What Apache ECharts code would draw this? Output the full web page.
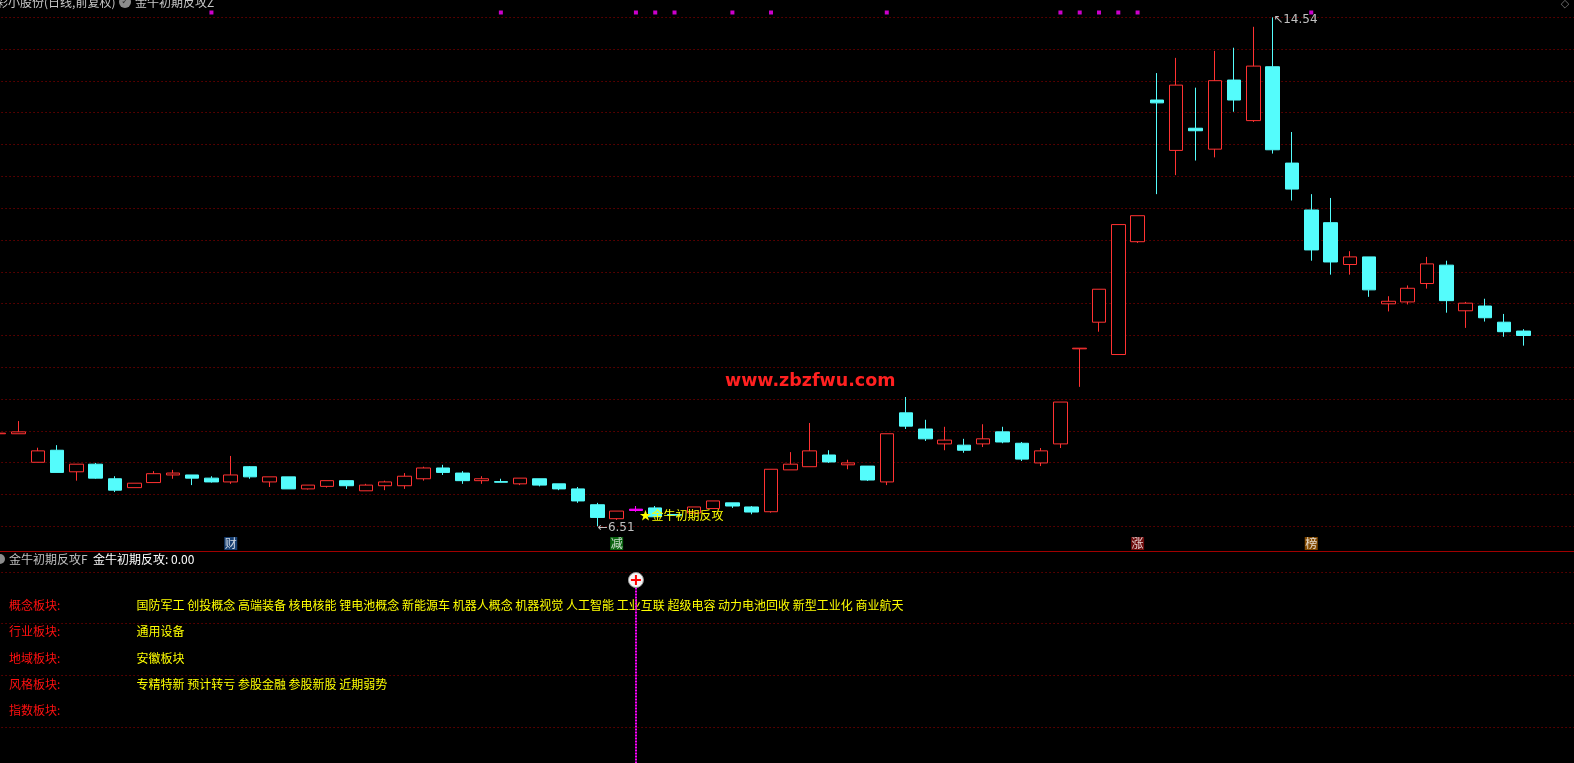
<!DOCTYPE html>
<html><head><meta charset="utf-8">
<script src="https://cdn.jsdelivr.net/npm/echarts@6/dist/echarts.min.js"></script>
<style>html,body{margin:0;padding:0;background:#000;overflow:hidden}#c{width:1574px;height:763px}</style>
</head><body><div id="c"></div>
<script>
// ---------- data ----------
const categories = Array.from({length: 83}, (_, i) => 'D' + (i + 1));
const opens  = [7.97,7.97,7.52,7.71,7.37,7.49,7.26,7.12,7.20,7.32,7.32,7.27,7.21,7.45,7.21,7.29,7.10,7.14,7.23,7.07,
                7.15,7.15,7.26,7.43,7.35,7.23,7.215,7.18,7.26,7.18,7.10,6.85,6.63,6.76,6.80,6.695,6.72,6.79,6.88,6.815,
                6.74,7.40,7.45,7.635,7.48,7.46,7.21,8.30,8.045,7.81,7.79,7.81,8.00,7.82,7.51,7.81,9.31,9.73,9.22,11.00,
                13.235,12.44,12.79,12.46,13.55,12.91,13.76,12.24,11.50,11.30,10.64,10.76,10.02,10.05,10.34,10.63,9.91,9.985,9.73,9.59];
const closes = [7.98,8.00,7.70,7.36,7.49,7.27,7.08,7.19,7.34,7.35,7.27,7.21,7.32,7.29,7.29,7.10,7.16,7.23,7.15,7.16,
                7.21,7.30,7.43,7.36,7.23,7.26,7.205,7.27,7.16,7.10,6.91,6.65,6.75,6.78,6.66,6.685,6.815,6.91,6.83,6.735,
                7.41,7.49,7.70,7.525,7.51,7.24,7.97,8.09,7.89,7.87,7.71,7.89,7.84,7.57,7.70,8.47,9.32,10.25,11.27,11.41,
                13.19,13.47,12.75,13.54,13.235,13.77,12.45,11.83,10.87,10.68,10.76,10.24,10.06,10.265,10.65,10.07,10.03,9.80,9.58,9.52];
const lows   = [7.97,7.97,7.52,7.36,7.23,7.26,7.05,7.12,7.20,7.26,7.16,7.20,7.18,7.26,7.13,7.10,7.09,7.12,7.10,7.07,
                7.08,7.10,7.23,7.32,7.18,7.18,7.205,7.16,7.14,7.08,6.88,6.51,6.61,6.74,6.66,6.685,6.72,6.79,6.80,6.70,
                6.725,7.40,7.45,7.51,7.41,7.225,7.16,8.045,7.856,7.71,7.67,7.76,7.82,7.54,7.46,7.745,8.71,9.58,9.22,10.98,
                11.75,12.05,12.28,12.33,13.05,12.89,12.39,11.65,10.70,10.48,10.48,10.13,9.90,10.01,10.26,9.88,9.64,9.74,9.50,9.36];
const highs  = [7.98,8.17,7.75,7.79,7.49,7.51,7.30,7.19,7.38,7.40,7.32,7.30,7.62,7.46,7.29,7.29,7.16,7.23,7.23,7.18,
                7.23,7.35,7.45,7.48,7.38,7.30,7.26,7.27,7.26,7.18,7.13,6.88,6.75,6.83,6.83,6.695,6.815,6.91,6.88,6.83,
                7.41,7.68,8.14,7.71,7.56,7.46,7.97,8.55,8.19,8.08,7.89,8.12,8.08,7.84,7.745,8.47,9.32,10.25,11.27,11.41,
                13.66,13.90,13.43,14.01,14.06,14.39,14.54,12.73,11.75,11.69,10.85,10.76,10.14,10.31,10.76,10.70,10.05,10.10,9.86,9.62];
const magentaIdx = 33;                 // candle overpainted in magenta
const signalIdx  = [11,26,33,34,35,38,40,46,55,56,57,58,59,68];   // magenta dots on top row
const eventIdx   = [12,32,59,68];
const eventText  = ['财','减','涨','榜'];
const eventColor = ['#1d4f8f','#0b7d14','#8a1010','#a05a00'];
const signalTextIdx = 33;
const signalText = '★金牛初期反攻';
const stickIdx = 33;                   // sub-panel stick
const priceMin = 6.51, priceMax = 14.54;
const lowIdx = 31, highIdx = 66;
const titleMain = '彩小股份(日线,前复权)';
const titleInd = '金牛初期反攻Z';
const subTitle = '金牛初期反攻F';
const subValue = '金牛初期反攻: 0.00';
const rowLabels = ['概念板块:','行业板块:','地域板块:','风格板块:','指数板块:'];
const rowValues = ['国防军工 创投概念 高端装备 核电核能 锂电池概念 新能源车 机器人概念 机器视觉 人工智能 工业互联 超级电容 动力电池回收 新型工业化 商业航天',
                   '通用设备','安徽板块','专精特新 预计转亏 参股金融 参股新股 近期弱势',''];
const watermark = 'www.zbzfwu.com';

// ---------- layout ----------
const BAND = 19.295, N = categories.length;
const LEFT = -10.45, WIDTH = N * BAND;
const CJK = "'Noto Sans CJK SC','DejaVu Sans',sans-serif";
const GRID_RED = '#a00000';

const candleData = opens.map((o, i) => {
  const v = [o, closes[i], lows[i], highs[i]];
  if (i === magentaIdx) return {value: v, itemStyle: {color:'#ff00ff', color0:'#ff00ff', borderColor:'#ff00ff', borderColor0:'#ff00ff'}};
  return v;
});

const hiddenCat = (gi, extra) => Object.assign({
  type:'category', data: categories, gridIndex: gi, boundaryGap: true,
  axisLabel:{show:false}, axisTick:{show:false}, axisLine:{show:false}, splitLine:{show:false}
}, extra || {});

const mkGrid = (top, height) => ({left: LEFT, width: WIDTH, top: top, height: height, outerBoundsMode: 'none', containLabel: false});

const option = {
  backgroundColor: '#000',
  animation: false,
  grid: [mkGrid(17.3, 509), mkGrid(551, 227.45), mkGrid(10.5, 4), mkGrid(537, 13)],
  xAxis: [
    hiddenCat(0),
    hiddenCat(1, {position:'top', axisLine:{show:true, onZero:false, lineStyle:{color:'#a00000', width:1}}}),
    hiddenCat(2),
    hiddenCat(3)
  ],
  yAxis: [
    {type:'value', gridIndex:0, min: priceMin, max: priceMax, interval: (priceMax - priceMin) / 16,
     axisLabel:{show:false}, axisTick:{show:false}, axisLine:{show:false},
     splitLine:{show:true, lineStyle:{color: GRID_RED, type:[1,3], width:1}}},
    {type:'value', gridIndex:1, min: 0, max: 4.404, interval: 1,
     axisLabel:{show:false}, axisTick:{show:false}, axisLine:{show:false},
     splitLine:{show:true, showMinLine:false, showMaxLine:false, lineStyle:{color: GRID_RED, type:[1,3], width:1}}},
    {type:'value', gridIndex:2, min:-1, max:1, show:false},
    {type:'value', gridIndex:3, min:-1, max:1, show:false}
  ],
  series: [
    {
      type:'candlestick', xAxisIndex:0, yAxisIndex:0, data: candleData, barWidth: 14,
      itemStyle:{color:'#000', color0:'#54fcfc', borderColor:'#ff3232', borderColor0:'#54fcfc', borderWidth:1},
      markPoint:{
        symbol:'circle', symbolSize:1, itemStyle:{color:'rgba(0,0,0,0)'},
        label:{show:true, fontFamily:"'DejaVu Sans',sans-serif", fontSize:12, color:'#c0c0c0'},
        data:[
          {coord:[lowIdx, lows[lowIdx]], label:{formatter:'←' + lows[lowIdx].toFixed(2), position:'right', distance:0, offset:[0,1.4]}},
          {coord:[highIdx, highs[highIdx]], label:{formatter:'↖' + highs[highIdx].toFixed(2), position:'right', distance:0, offset:[0,3]}},
          {coord:[signalTextIdx, lows[signalTextIdx]], label:{formatter: signalText, position:'right', distance:3, offset:[0,3.6], color:'#ffff00', fontFamily: CJK}}
        ]
      }
    },
    {
      type:'line', xAxisIndex:1, yAxisIndex:1, data:[], silent:true,
      markLine:{
        silent:true, symbol:['none','none'], label:{show:false},
        lineStyle:{color:'#ff00ff', type:[2,1], width:2},
        data:[[{coord:[stickIdx, 0]}, {coord:[stickIdx, 3.687]}]]
      },
      markPoint:{
        data:[
          {coord:[stickIdx, 3.842], symbol:'circle', symbolSize:15, itemStyle:{color:'#f4f4f4', borderColor:'#9a9a9a', borderWidth:1}, label:{show:false}},
          {coord:[stickIdx, 3.842], symbol:'path://M4,0H6V4H10V6H6V10H4V6H0V4H4Z', symbolSize:10, itemStyle:{color:'#ff0000'}, label:{show:false}}
        ]
      }
    },
    {
      type:'scatter', xAxisIndex:2, yAxisIndex:2, symbol:'rect', symbolSize:4,
      itemStyle:{color:'#ff00ff'}, data: signalIdx.map(i => [i, 0])
    },
    {
      type:'scatter', xAxisIndex:3, yAxisIndex:3, symbol:'rect', symbolSize:[13,13],
      data: eventIdx.map((i, k) => ({value:[i, 0], name: eventText[k], itemStyle:{color: eventColor[k]}})),
      label:{show:true, position:'inside', formatter: p => p.name, color:'#ffffff', fontSize:12, fontFamily: CJK}
    }
  ],
  graphic: [
    {type:'text', x:-4, y:2, style:{text: titleMain, fill:'#c8c8c8', font:'12px ' + CJK, verticalAlign:'middle'}},
    {type:'circle', shape:{cx:125, cy:2, r:6}, style:{fill:'#8c8c8c'}},
    {type:'text', x:125, y:2, style:{text:'✓', fill:'#333', font:'9px DejaVu Sans', align:'center', verticalAlign:'middle'}},
    {type:'text', x:135, y:2, style:{text: titleInd, fill:'#c8c8c8', font:'12px ' + CJK, verticalAlign:'middle'}},
    {type:'text', x:1565, y:4, style:{text:'◇', fill:'#7a7a7a', font:'11px DejaVu Sans', align:'center', verticalAlign:'middle'}},
    {type:'text', x:725, y:381, style:{text: watermark, fill:'#ff2020', font:'bold 17.5px DejaVu Sans', verticalAlign:'middle'}},
    {type:'circle', shape:{cx:0, cy:559, r:5}, style:{fill:'#8c8c8c'}},
    {type:'text', x:9, y:559, style:{text: subTitle, fill:'#c0c0c0', font:'12px ' + CJK, verticalAlign:'middle'}},
    {type:'text', x:93, y:559, style:{text: subValue, fill:'#ffffff', font:'12px ' + CJK, verticalAlign:'middle'}}
  ].concat(rowLabels.map((t, k) => ({type:'text', x:9, y:[605.5,631.5,658,684,710][k],
      style:{text:t, fill:'#ff1010', font:'12px ' + CJK, verticalAlign:'middle'}})))
   .concat(rowValues.map((t, k) => ({type:'text', x:136.5, y:[605.5,631.5,658,684,710][k],
      style:{text:t, fill:'#ffff00', font:'12px ' + CJK, verticalAlign:'middle'}})))
};

const chart = echarts.init(document.getElementById('c'), null, {renderer:'canvas'});
chart.setOption(option);
</script></body></html>
